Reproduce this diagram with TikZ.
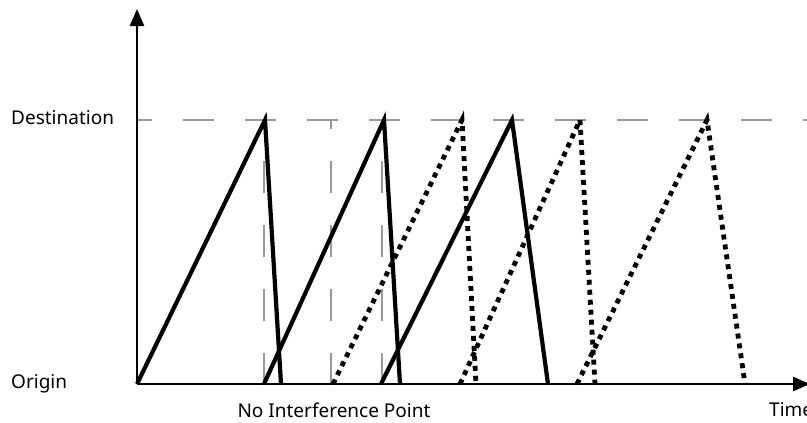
\documentclass[tikz,border=0pt]{standalone}
\usepackage{fontspec}
\setmainfont{Noto Sans}
\usetikzlibrary{arrows.meta}
\begin{document}
\begin{tikzpicture}[x=1pt,y=-1pt,
  axis/.style={line width=2.4pt,-{Triangle[length=17pt,width=14pt]}},
  solidtri/.style={line width=4.2pt,line join=miter},
  dottri/.style={line width=4.8pt,dash pattern=on 5pt off 5pt},
  guide/.style={gray!80,line width=2pt,dash pattern=on 31pt off 31pt,dash phase=16pt},
  vguide/.style={gray!80,line width=2pt,dash pattern=on 32pt off 32pt},
  lab/.style={font=\fontsize{19}{21}\selectfont,inner sep=0pt}]
\useasboundingbox (0,0) rectangle (807,423);
\coordinate (O) at (137,384);
\coordinate (ytop) at (137,9);
\coordinate (xend) at (810,384);
\coordinate (d0) at (137,120);
\coordinate (d1) at (807,120);
% destination guide
\draw[guide] (d0) -- (d1);
% vertical guides (drawn upward from the time axis)
\coordinate (v1t) at (264,120); \coordinate (v1b) at (264,385);
\coordinate (v2t) at (331,120); \coordinate (v2b) at (331,385);
\coordinate (v3t) at (382,120); \coordinate (v3b) at (382,385);
\draw[vguide] (v1b) -- (v1t);
\draw[vguide] (v2b) -- (v2t);
\draw[vguide] (v3b) -- (v3t);
% solid triangles
\coordinate (a1) at (137,384); \coordinate (p1) at (265,120); \coordinate (b1) at (281,384);
\coordinate (a2) at (264,384); \coordinate (p2) at (384,120); \coordinate (b2) at (400,384);
\coordinate (a3) at (381,384); \coordinate (p3) at (512,120); \coordinate (b3) at (548,384);
\draw[solidtri] (a1) -- (p1) -- (b1);
\draw[solidtri] (a2) -- (p2) -- (b2);
\draw[solidtri] (a3) -- (p3) -- (b3);
% dotted triangles
\coordinate (c1) at (333,384); \coordinate (q1) at (462,120); \coordinate (e1) at (476,384);
\coordinate (c2) at (460,384); \coordinate (q2) at (580,120); \coordinate (e2) at (595,384);
\coordinate (c3) at (577,384); \coordinate (q3) at (707,120); \coordinate (e3) at (745,384);
\draw[dottri] (c1) -- (q1) -- (e1);
\draw[dottri] (c2) -- (q2) -- (e2);
\draw[dottri] (c3) -- (q3) -- (e3);
% axes
\draw[axis] (O) -- (ytop);
\draw[axis] (O) -- (xend);
% labels
\node[lab,anchor=west] (dest) at (11,118) {Destination};
\node[lab,anchor=west] (orig) at (11,384) {Origin};
\node[lab] (nip) at (334,410) {No Interference Point};
\node[lab,anchor=west] (time) at (769,410) {Time};
\end{tikzpicture}
\end{document}
